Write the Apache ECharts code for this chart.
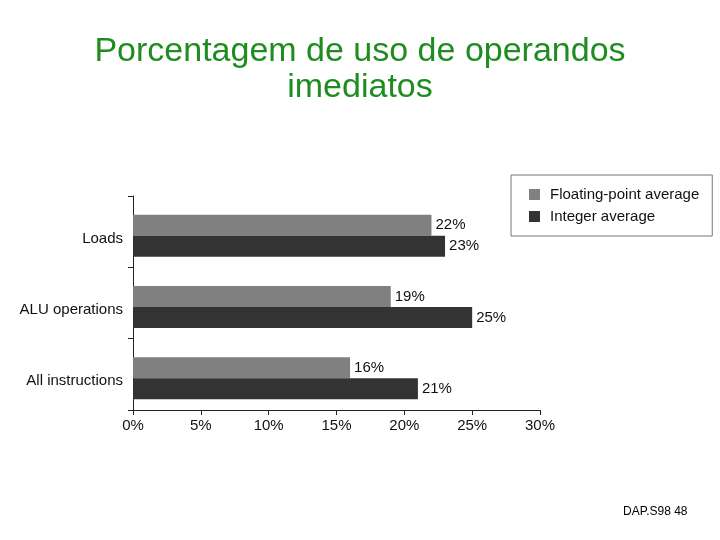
<!DOCTYPE html>
<html>
<head>
<meta charset="utf-8">
<style>
  html, body { margin: 0; padding: 0; background: #fff; }
  #chart { width: 720px; height: 540px; }
</style>
<script src="https://cdn.jsdelivr.net/npm/echarts@6/dist/echarts.min.js"></script>
</head>
<body>
<div id="chart"></div>
<script>
const categories = ["Loads", "ALU operations", "All instructions"];
const floatingPoint = [22, 19, 16];
const integerAvg = [23, 25, 21];
const xTicks = [0, 5, 10, 15, 20, 25, 30];

const chart = echarts.init(document.getElementById("chart"));
const font = "Liberation Sans, Arial, sans-serif";

const valueLabel = {
  show: true,
  position: "right",
  distance: 4,
  formatter: "{c}%",
  color: "#111",
  fontFamily: font,
  fontSize: 15,
};

const option = {
  backgroundColor: "#fff",
  animation: false,
  title: [
    {
      text: "Porcentagem de uso de operandos\nimediatos",
      left: "center",
      top: 29,
      textStyle: {
        color: "#1e8c1e",
        fontFamily: font,
        fontSize: 34,
        fontWeight: "normal",
        lineHeight: 36,
      },
    },
    {
      text: "DAP.S98 48",
      left: 618,
      top: 501,
      textStyle: {
        color: "#000",
        fontFamily: font,
        fontSize: 12,
        fontWeight: "normal",
      },
    },
  ],
  legend: {
    orient: "vertical",
    left: 511,
    top: 175,
    padding: [12, 13, 12, 18],
    itemGap: 7,
    itemWidth: 11,
    itemHeight: 11,
    borderColor: "#777",
    borderWidth: 1,
    icon: "rect",
    textStyle: {
      fontFamily: font,
      fontSize: 15,
      color: "#111",
      padding: [0, 0, 0, 5],
    },
    data: ["Floating-point average", "Integer average"],
  },
  grid: {
    left: 133,
    right: 180,
    top: 196,
    bottom: 130,
  },
  xAxis: {
    type: "value",
    min: 0,
    max: 30,
    interval: 5,
    splitLine: { show: false },
    axisLine: { show: true, lineStyle: { color: "#222", width: 1 } },
    axisTick: { show: true, length: 5, lineStyle: { color: "#222" } },
    axisLabel: {
      color: "#111",
      fontFamily: font,
      fontSize: 15,
      margin: 8,
      formatter: (v) => (xTicks.includes(v) ? v + "%" : ""),
    },
  },
  yAxis: {
    type: "category",
    inverse: true,
    data: categories,
    axisLine: { show: true, lineStyle: { color: "#222", width: 1 } },
    axisTick: { show: true, length: 5, lineStyle: { color: "#222" } },
    axisLabel: {
      margin: 10,
      formatter: (v) => "{a|" + v + "}",
      rich: {
        a: {
          color: "#111",
          fontFamily: font,
          fontSize: 15,
          padding: [14, 0, 0, 0],
        },
      },
    },
  },
  series: [
    {
      // empty spacer: pushes each bar pair slightly below the band centre
      name: "spacer",
      type: "bar",
      data: [],
      barWidth: 8,
      barGap: "0%",
      silent: true,
    },
    {
      name: "Floating-point average",
      type: "bar",
      data: floatingPoint,
      barWidth: 21,
      barGap: "0%",
      itemStyle: { color: "#808080" },
      label: valueLabel,
    },
    {
      name: "Integer average",
      type: "bar",
      data: integerAvg,
      barWidth: 21,
      barGap: "0%",
      itemStyle: { color: "#333333" },
      label: valueLabel,
    },
  ],
};

chart.setOption(option);
</script>
</body>
</html>
